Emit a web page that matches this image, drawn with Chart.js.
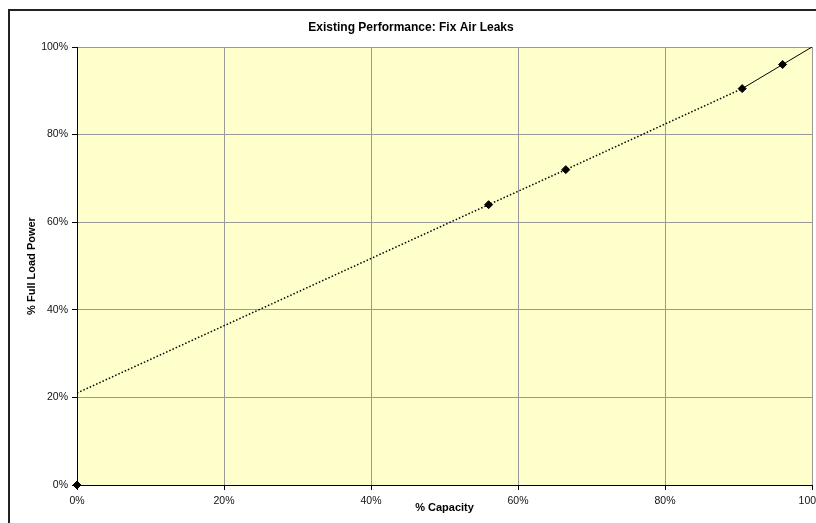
<!DOCTYPE html>
<html>
<meta charset="UTF-8">
<head>
    <title>Existing Performance: Fix Air Leaks</title>
    <script src="https://cdn.jsdelivr.net/npm/chart.js"></script>
    <style>
        html, body { margin: 0; padding: 0; overflow: hidden; background: #fff; width: 816px; height: 523px; }
        #frame { position: absolute; left: 8px; top: 9px; border: 2px solid #222; width: 840px; height: 540px; }
        #chartBox { position: absolute; left: 0; top: 0; width: 832px; height: 530px; }
    </style>
</head>
<body>
<div id="frame">
    <div id="chartBox">
        <canvas id="chart"></canvas>
    </div>
</div>

<script>
    // Measured points (% capacity vs % full load power)
    const capacity = [0, 56, 66.5, 90.5, 96];
    const power = [0, 64, 72, 90.5, 96];

    // Dotted part of the performance line
    const dottedX = [0, 56, 66.5, 90.5];
    const dottedY = [21, 64, 72, 90.5];

    // Solid part of the performance line
    const solidX = [90.5, 96, 100];
    const solidY = [90.5, 96, 100];

    const tickValues = [0, 20, 40, 60, 80, 100];

    function toPoints(xs, ys) {
        return xs.map((x, i) => ({ x: x, y: ys[i] }));
    }

    // Pale yellow plot area like the spreadsheet chart
    const plotBackground = {
        id: 'plotBackground',
        beforeDraw(chart) {
            const { ctx, chartArea: a } = chart;
            ctx.save();
            ctx.fillStyle = '#FFFFCC';
            ctx.fillRect(a.left, a.top, a.right - a.left, a.bottom - a.top);
            ctx.restore();
        }
    };

    const pct = v => v + '%';
    const tickFont = { family: 'Liberation Sans, Arial', size: 10.5 };

    const ctx = document.getElementById('chart').getContext('2d');
    new Chart(ctx, {
        type: 'scatter',
        data: {
            datasets: [
                {
                    label: 'Dotted',
                    data: toPoints(dottedX, dottedY),
                    showLine: true,
                    borderColor: '#000',
                    borderWidth: 1.5,
                    borderDash: [1.5, 2],
                    pointRadius: 0,
                    fill: false
                },
                {
                    label: 'Solid',
                    data: toPoints(solidX, solidY),
                    showLine: true,
                    borderColor: '#000',
                    borderWidth: 1,
                    pointRadius: 0,
                    fill: false
                },
                {
                    label: 'Points',
                    data: toPoints(capacity, power),
                    showLine: false,
                    pointStyle: 'rectRot',
                    pointRadius: 4,
                    backgroundColor: '#000',
                    borderColor: '#000',
                    clip: false
                }
            ]
        },
        options: {
            responsive: true,
            maintainAspectRatio: false,
            animation: false,
            layout: { padding: { left: 0, right: 30, top: 0, bottom: 0 } },
            plugins: {
                legend: { display: false },
                tooltip: { enabled: false },
                title: {
                    display: true,
                    text: 'Existing Performance: Fix Air Leaks',
                    color: '#000',
                    font: { family: 'Liberation Sans, Arial', size: 12, weight: 'bold' },
                    padding: { top: 9, bottom: 12.6 }
                }
            },
            scales: {
                x: {
                    type: 'linear',
                    min: 0,
                    max: 100,
                    afterBuildTicks: s => { s.ticks = tickValues.map(v => ({ value: v })); },
                    afterFit: s => { s.height = 56; },
                    ticks: {
                        callback: pct,
                        color: '#111',
                        padding: 5,
                        maxRotation: 0,
                        font: tickFont
                    },
                    grid: { color: '#999', tickColor: '#000', tickLength: 5, lineWidth: 1 },
                    border: { color: '#000', width: 1 },
                    title: {
                        display: true,
                        text: '% Capacity',
                        color: '#000',
                        font: { family: 'Liberation Sans, Arial', size: 11, weight: 'bold' },
                        padding: { top: 0, bottom: 26.4 }
                    }
                },
                y: {
                    type: 'linear',
                    min: 0,
                    max: 100,
                    afterBuildTicks: s => { s.ticks = tickValues.map(v => ({ value: v })); },
                    afterFit: s => { s.width = 67; },
                    ticks: {
                        callback: pct,
                        color: '#111',
                        padding: 4,
                        font: tickFont
                    },
                    grid: { color: '#999', tickColor: '#000', tickLength: 5, lineWidth: 1 },
                    border: { color: '#000', width: 1 },
                    title: {
                        display: true,
                        text: '% Full Load Power',
                        color: '#000',
                        font: { family: 'Liberation Sans, Arial', size: 11, weight: 'bold' },
                        padding: { top: 15.4, bottom: 0 }
                    }
                }
            }
        },
        plugins: [plotBackground]
    });
</script>
</body>
</html>
